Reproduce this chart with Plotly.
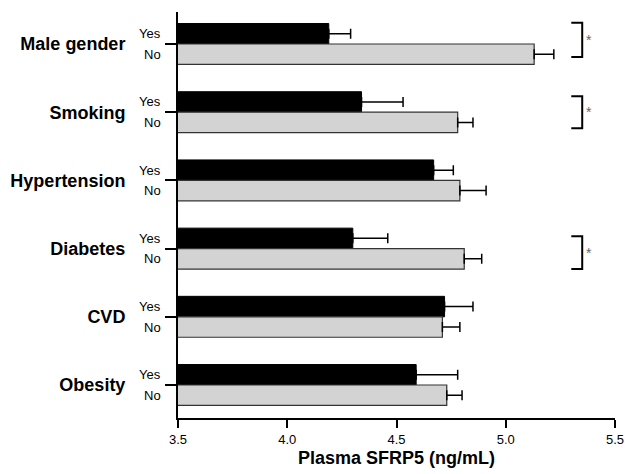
import plotly.graph_objects as go

categories = ["Male gender", "Smoking", "Hypertension", "Diabetes", "CVD", "Obesity"]
yes_values = [4.19, 4.34, 4.67, 4.30, 4.72, 4.59]
yes_errors = [0.10, 0.19, 0.09, 0.16, 0.13, 0.19]
no_values = [5.13, 4.78, 4.79, 4.81, 4.71, 4.73]
no_errors = [0.09, 0.07, 0.12, 0.08, 0.08, 0.07]
significant = ["Male gender", "Smoking", "Diabetes"]
x_ticks = [3.5, 4.0, 4.5, 5.0, 5.5]

FONT = "Liberation Sans, Arial, Helvetica, sans-serif"
OFF = 0.15
BW = 0.30

idx = list(range(len(categories)))
fig = go.Figure()
fig.add_trace(go.Bar(
    y=[i - OFF for i in idx], x=yes_values, orientation="h", width=BW,
    marker=dict(color="black", line=dict(color="black", width=1)),
    error_x=dict(type="data", array=yes_errors, arrayminus=[0] * len(idx),
                 symmetric=False, color="black", thickness=1.5, width=5),
    name="Yes", showlegend=False))
fig.add_trace(go.Bar(
    y=[i + OFF for i in idx], x=no_values, orientation="h", width=BW,
    marker=dict(color="#d3d3d3", line=dict(color="#333333", width=1.2)),
    error_x=dict(type="data", array=no_errors, arrayminus=[0] * len(idx),
                 symmetric=False, color="black", thickness=1.5, width=5),
    name="No", showlegend=False))

annotations = []
for i in idx:
    for lab, dy in (("Yes", -OFF), ("No", OFF)):
        annotations.append(dict(
            text=lab, xref="paper", yref="y", x=0, y=i + dy,
            xanchor="right", yanchor="middle", xshift=-15, showarrow=False,
            font=dict(family=FONT, size=13, color="black")))

# significance brackets (top/bottom offsets relative to category centre)
bracket_span = {"Male gender": (-0.31, 0.19), "Smoking": (-0.235, 0.235), "Diabetes": (-0.18, 0.30)}
shapes = []
bx0, bx1 = 5.30, 5.35
for cat in significant:
    i = categories.index(cat)
    t, b = bracket_span[cat]
    y0, y1 = i + t, i + b
    path = f"M {bx0},{y0} L {bx1},{y0} L {bx1},{y1} L {bx0},{y1}"
    shapes.append(dict(type="path", path=path, xref="x", yref="y",
                       line=dict(color="black", width=2)))
    annotations.append(dict(text="*", xref="x", yref="y", x=bx1, y=(y0 + y1) / 2,
                            xanchor="left", yanchor="middle", xshift=2, showarrow=False,
                            font=dict(family=FONT, size=14, color="#666666")))

fig.update_layout(
    width=625, height=474,
    margin=dict(l=178, r=10, t=12, b=56, autoexpand=False),
    paper_bgcolor="white", plot_bgcolor="white",
    barmode="overlay",
    font=dict(family=FONT, color="black"),
    annotations=annotations, shapes=shapes,
    xaxis=dict(range=[3.5, 5.5], tickvals=x_ticks, ticktext=[f"{v:.1f}" for v in x_ticks],
               showline=True, linecolor="black", linewidth=2, ticks="outside",
               ticklen=8, tickwidth=1.5, tickcolor="black", showgrid=False, zeroline=False,
               ticklabeloverflow="allow", automargin=False,
               tickfont=dict(family=FONT, size=13, color="black"),
               title=dict(text="<b>Plasma SFRP5 (ng/mL)</b>", standoff=6,
                          font=dict(family=FONT, size=18, color="black"))),
    yaxis=dict(range=[5.484, -0.469], tickvals=idx, ticktext=[f"<b>{c}</b>" for c in categories],
               showline=True, linecolor="black", linewidth=2, ticks="outside",
               ticklen=11, tickwidth=1.5, tickcolor="black", showgrid=False, zeroline=False,
               ticklabelstandoff=36, automargin=False,
               tickfont=dict(family=FONT, size=18, color="black")),
)

fig.write_html("out.html", config={"displayModeBar": False},
               post_script="document.body.style.margin='0';document.body.style.overflow='hidden';")
